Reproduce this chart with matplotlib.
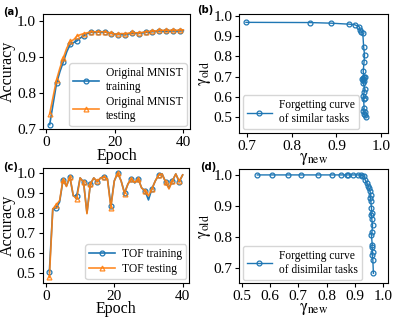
import matplotlib
matplotlib.use("Agg")
import matplotlib.pyplot as plt

plt.rcParams['font.family'] = ['Liberation Serif', 'DejaVu Serif']
plt.rcParams['mathtext.fontset'] = 'stix'

# ---- data ----
epochs = list(range(1, 41))
mnist_train = [0.713, 0.770, 0.827, 0.860, 0.887, 0.915, 0.935, 0.940, 0.945, 0.953,
               0.959, 0.965, 0.968, 0.969, 0.969, 0.969, 0.969, 0.968, 0.965, 0.963,
               0.962, 0.963, 0.961, 0.964, 0.966, 0.966, 0.965, 0.967, 0.968, 0.969,
               0.970, 0.971, 0.972, 0.972, 0.971, 0.972, 0.972, 0.972, 0.972, 0.973]
mnist_test = [0.743, 0.790, 0.837, 0.870, 0.898, 0.925, 0.943, 0.948, 0.958, 0.962,
              0.965, 0.967, 0.970, 0.970, 0.970, 0.970, 0.970, 0.968, 0.966, 0.964,
              0.963, 0.965, 0.964, 0.966, 0.968, 0.967, 0.967, 0.968, 0.970, 0.971,
              0.972, 0.972, 0.975, 0.974, 0.974, 0.974, 0.975, 0.974, 0.975, 0.975]

tof_train = [0.505, 0.820, 0.824, 0.855, 0.965, 0.935, 0.980, 0.885, 0.885, 0.975,
             0.955, 0.800, 0.945, 0.975, 0.955, 0.975, 0.980, 0.970, 0.837, 0.960,
             1.000, 0.960, 0.900, 0.945, 0.970, 0.950, 0.970, 0.925, 0.910, 0.865,
             0.920, 0.960, 0.990, 0.995, 0.955, 0.925, 0.960, 0.995, 0.955, 0.990]
tof_test = [0.477, 0.820, 0.840, 0.862, 0.967, 0.932, 0.982, 0.887, 0.870, 0.975,
            0.955, 0.796, 0.945, 0.975, 0.958, 0.975, 0.980, 0.970, 0.825, 0.960,
            1.000, 0.960, 0.897, 0.945, 0.970, 0.952, 0.970, 0.925, 0.910, 0.885,
            0.920, 0.960, 0.990, 0.995, 0.955, 0.920, 0.960, 0.995, 0.958, 0.990]

sim_new = [0.697, 0.840, 0.887, 0.929, 0.941, 0.951, 0.953, 0.955, 0.959, 0.961,
           0.963, 0.962, 0.960, 0.962, 0.959, 0.958, 0.960, 0.963, 0.962, 0.960,
           0.964, 0.962, 0.960, 0.963, 0.961, 0.962, 0.960, 0.963, 0.962, 0.965, 0.966]
sim_old = [0.967, 0.966, 0.963, 0.958, 0.955, 0.946, 0.930, 0.922, 0.917, 0.848,
           0.807, 0.774, 0.726, 0.700, 0.693, 0.688, 0.685, 0.698, 0.680, 0.668,
           0.639, 0.623, 0.603, 0.595, 0.590, 0.546, 0.533, 0.525, 0.516, 0.510, 0.502]

dis_new = [0.555, 0.606, 0.665, 0.710, 0.769, 0.818, 0.850, 0.871, 0.875, 0.894,
           0.910, 0.920, 0.926, 0.932, 0.936, 0.942, 0.947, 0.950, 0.953, 0.955,
           0.954, 0.956, 0.958, 0.960, 0.957, 0.959, 0.962, 0.960, 0.958, 0.961,
           0.960, 0.962, 0.961, 0.963, 0.965]
dis_old = [1.000, 1.000, 1.000, 1.000, 1.000, 1.000, 1.000, 1.000, 1.000, 1.000,
           1.000, 1.000, 0.998, 0.995, 0.984, 0.973, 0.965, 0.957, 0.948, 0.936,
           0.925, 0.915, 0.895, 0.877, 0.870, 0.860, 0.839, 0.818, 0.807, 0.775,
           0.770, 0.752, 0.742, 0.728, 0.684]

blue = '#1f77b4'
orange = '#ff7f0e'
W, H = 395, 317
fig = plt.figure(figsize=(W / 100, H / 100), dpi=100)

def ax_at(l, r, t, b):
    return fig.add_axes([l / W, 1 - b / H, (r - l) / W, (b - t) / H])

ax_a = ax_at(43, 190, 14, 129.3)
ax_b = ax_at(239.3, 387.7, 14, 132.7)
ax_c = ax_at(42.7, 189.3, 167.7, 282.7)
ax_d = ax_at(239.3, 387.7, 169, 283.3)

tick_fs = 11
lab_fs = 11.5
leg_fs = 8.3

for ax in (ax_a, ax_b, ax_c, ax_d):
    ax.tick_params(labelsize=tick_fs, length=3, width=0.8, pad=2)

mk = dict(markersize=3.5, markerfacecolor='none', markevery=2, markeredgewidth=0.9)
leg_kw = dict(fontsize=leg_fs, handlelength=2.2, borderaxespad=0.3,
              labelspacing=0.25, handletextpad=0.6, borderpad=0.35)

# (a)
ax_a.plot(epochs, mnist_train, color=blue, lw=1.2, marker='o', label='Original MNIST\ntraining', **mk)
ax_a.plot(epochs, mnist_test, color=orange, lw=1.2, marker='^', alpha=0.9, label='Original MNIST\ntesting', **mk)
ax_a.set_ylim(0.7, 1.019)
ax_a.set_yticks([0.7, 0.8, 0.9, 1.0])
ax_a.set_xticks([0, 20, 40])
ax_a.set_xlabel('Epoch', fontsize=lab_fs, labelpad=-1)
ax_a.set_ylabel('Accuracy', fontsize=lab_fs, labelpad=1)
ax_a.legend(loc='lower right', **leg_kw)

# (c)
ax_c.plot(epochs, tof_train, color=blue, lw=1.2, marker='o', label='TOF training', **mk)
ax_c.plot(epochs, tof_test, color=orange, lw=1.2, marker='^', alpha=0.9, label='TOF testing', **mk)
ax_c.set_yticks([0.5, 0.6, 0.7, 0.8, 0.9, 1.0])
ax_c.set_xticks([0, 20, 40])
ax_c.set_xlabel('Epoch', fontsize=lab_fs, labelpad=-1)
ax_c.set_ylabel('Accuracy', fontsize=lab_fs, labelpad=1)
ax_c.legend(loc='lower right', **leg_kw)

# (b)
ax_b.plot(sim_new, sim_old, color=blue, lw=1.0, marker='o', markersize=3.5,
          markerfacecolor='none', markeredgewidth=0.9,
          label='Forgetting curve\nof similar tasks')
ax_b.set_xlim(0.682, 1.015)
ax_b.set_ylim(0.425, 1.008)
ax_b.set_xticks([0.7, 0.8, 0.9, 1.0])
ax_b.set_yticks([0.5, 0.6, 0.7, 0.8, 0.9, 1.0])
ax_b.set_xlabel(r'$\mathrm{\gamma}_{\mathrm{new}}$', fontsize=lab_fs + 0.5, labelpad=-1)
ax_b.set_ylabel(r'$\mathrm{\gamma}_{\mathrm{old}}$', fontsize=lab_fs + 0.5, labelpad=0)
ax_b.legend(loc='lower left', **leg_kw)

# (d)
ax_d.plot(dis_new, dis_old, color=blue, lw=1.0, marker='o', markersize=3.5,
          markerfacecolor='none', markeredgewidth=0.9,
          label='Forgetting curve\nof disimilar tasks')
ax_d.set_xlim(0.4915, 1.0155)
ax_d.set_ylim(0.652, 1.019)
ax_d.set_xticks([0.5, 0.6, 0.7, 0.8, 0.9, 1.0])
ax_d.set_yticks([0.7, 0.8, 0.9, 1.0])
ax_d.set_xlabel(r'$\mathrm{\gamma}_{\mathrm{new}}$', fontsize=lab_fs + 0.5, labelpad=-1.5)
ax_d.set_ylabel(r'$\mathrm{\gamma}_{\mathrm{old}}$', fontsize=lab_fs + 0.5, labelpad=0)
ax_d.legend(loc='lower left', **leg_kw)

# panel labels
for txt, x, y in [('(a)', 3, 12), ('(b)', 197, 10), ('(c)', 3, 167), ('(d)', 200, 167)]:
    fig.text(x / W, 1 - y / H, txt, fontsize=7.2, fontweight='bold',
             family=['DejaVu Sans'], va='center', ha='left')

fig.savefig('out.png', dpi=100)
